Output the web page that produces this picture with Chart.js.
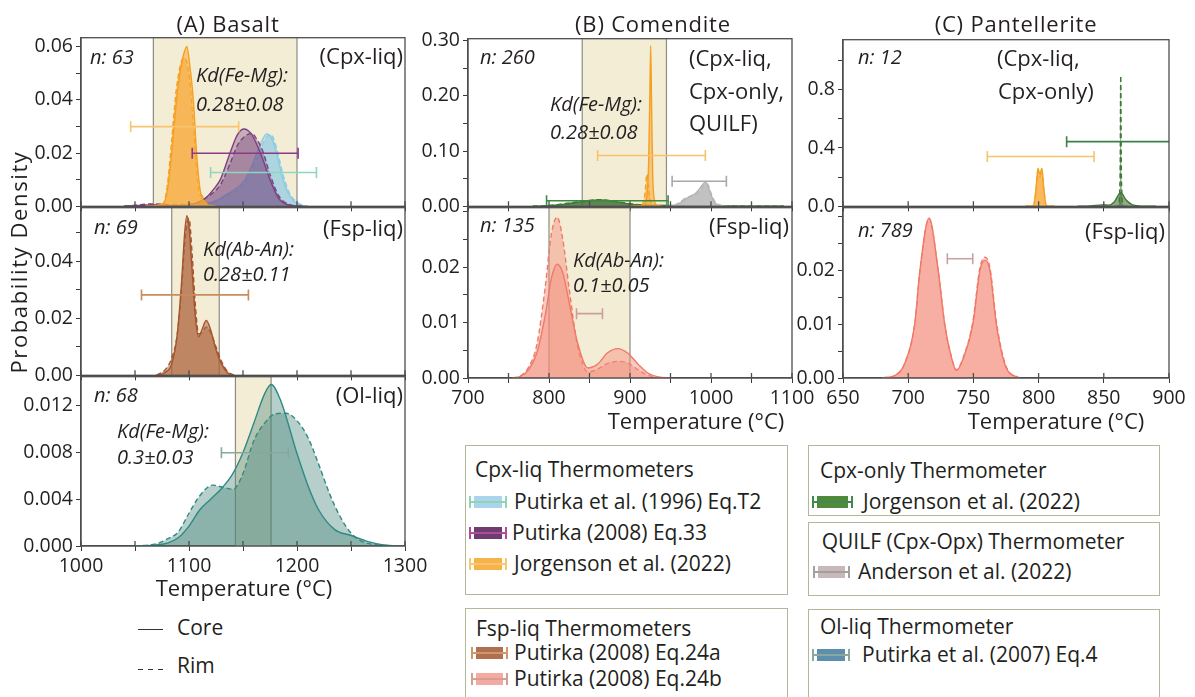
<!DOCTYPE html>
<html lang="en">
<head>
<meta charset="UTF-8" />
<title>Thermometer probability densities</title>
<script src="https://cdn.jsdelivr.net/npm/chart.js@4.4.1/dist/chart.umd.min.js"></script>
<style>
  body { margin: 0; width: 1195px; height: 697px; position: relative; overflow: hidden; background: #fff;
         font-family: "Open Sans", sans-serif; color: #231f20; }
  canvas.panel { position: absolute; }
  .t { position: absolute; white-space: nowrap; line-height: 1; }
  .i { font-style: italic; }
  .box { position: absolute; border: 1.5px solid #b4b898; box-sizing: border-box; }
  .pp { position: absolute; }
</style>
</head>
<body>
<script>
// ---------- (A) Basalt : Cpx-liq ----------
const aCpxShade = [1067, 1200];
const aJorgT    = [1060, 1076, 1080, 1084, 1088, 1092, 1095, 1098, 1101, 1104, 1107, 1110, 1112, 1115, 1125];
const aJorgCore = [0, 0.001, 0.006, 0.020, 0.038, 0.051, 0.057, 0.060, 0.052, 0.040, 0.020, 0.007, 0.003, 0.0008, 0];
const aJorgRim  = [0, 0.001, 0.008, 0.025, 0.043, 0.053, 0.0557, 0.054, 0.046, 0.031, 0.014, 0.0045, 0.004, 0.0015, 0];
const aP08T     = [1040, 1067, 1090, 1105, 1115, 1122, 1129, 1138, 1145, 1151, 1158, 1163, 1168, 1175, 1183, 1192, 1205];
const aP08Core  = [0, 0.0005, 0.0002, 0.001, 0.003, 0.006, 0.010, 0.020, 0.027, 0.029, 0.027, 0.023, 0.018, 0.010, 0.003, 0.0005, 0];
const aP08Rim   = [0, 0.0009, 0.0004, 0.001, 0.003, 0.005, 0.008, 0.016, 0.023, 0.026, 0.0274, 0.025, 0.021, 0.012, 0.004, 0.0008, 0];
const aP96T     = [1040, 1080, 1110, 1125, 1135, 1145, 1152, 1158, 1163, 1168, 1172, 1176, 1181, 1187, 1193, 1200, 1210];
const aP96Core  = [0, 0.0004, 0.0005, 0.002, 0.0045, 0.007, 0.010, 0.015, 0.020, 0.025, 0.0272, 0.026, 0.020, 0.010, 0.004, 0.001, 0];
const aP96Rim   = [0, 0.0006, 0.0008, 0.002, 0.004, 0.006, 0.009, 0.013, 0.018, 0.023, 0.026, 0.0268, 0.022, 0.012, 0.005, 0.0015, 0];
// error bars: [low, high, level]
const aJorgErr = [1046, 1146, 0.0299];
const aP08Err  = [1103, 1201, 0.0199];
const aP96Err  = [1120, 1218, 0.0127];

// ---------- (A) Basalt : Fsp-liq ----------
const aFspShade  = [1084, 1128];
const aEq24aT    = [1070, 1078, 1084, 1089, 1093, 1096, 1098, 1100, 1103, 1106, 1109, 1112, 1116, 1120, 1125, 1130, 1136, 1142];
const aEq24aCore = [0, 0.001, 0.004, 0.014, 0.032, 0.050, 0.056, 0.052, 0.036, 0.020, 0.0135, 0.016, 0.0192, 0.016, 0.009, 0.004, 0.0008, 0];
const aEq24aRim  = [0, 0.002, 0.006, 0.014, 0.030, 0.046, 0.053, 0.055, 0.042, 0.024, 0.0145, 0.015, 0.017, 0.015, 0.010, 0.005, 0.0012, 0];
const aEq24aErr  = [1056, 1155, 0.0282];

// ---------- (A) Basalt : Ol-liq ----------
const aOlShade = [1143, 1176];
const aOlCoreT = [1050, 1070, 1080, 1090, 1100, 1110, 1120, 1130, 1140, 1150, 1160, 1170, 1176, 1185, 1200, 1210, 1220, 1235, 1250, 1265, 1280, 1300];
const aOlCore  = [0, 0.0001, 0.00025, 0.0007, 0.0017, 0.0031, 0.0040, 0.0049, 0.0061, 0.0080, 0.0105, 0.0130, 0.0138, 0.0124, 0.0079, 0.0052, 0.0031, 0.0014, 0.0009, 0.0004, 0.0001, 0];
const aOlRimT  = [1050, 1070, 1080, 1090, 1100, 1110, 1122, 1132, 1141, 1150, 1160, 1170, 1180, 1190, 1200, 1210, 1220, 1230, 1240, 1250, 1260, 1275, 1300];
const aOlRim   = [0, 0.0002, 0.0006, 0.0012, 0.0028, 0.0043, 0.0052, 0.0050, 0.00485, 0.0062, 0.0090, 0.0105, 0.0113, 0.01135, 0.0107, 0.0093, 0.0070, 0.0045, 0.0025, 0.0011, 0.0004, 0.0001, 0];
const aOlErr   = [1130, 1192, 0.00797];

// ---------- (B) Comendite : Cpx-liq, Cpx-only, QUILF ----------
const bCpxShade    = [841, 945];
const bJorgT       = [900, 914, 918, 921, 923, 924.5, 925.5, 926.5, 928, 930, 933, 940];
const bJorgCore    = [0, 0.001, 0.004, 0.02, 0.08, 0.2, 0.291, 0.2, 0.06, 0.012, 0.002, 0];
const bJorgRimT    = [905, 914, 917, 919, 920, 921, 922, 924, 927, 932, 940];
const bJorgRim     = [0, 0.002, 0.01, 0.03, 0.05, 0.058, 0.05, 0.02, 0.004, 0.001, 0];
const bCpxOnlyT    = [780, 797, 820, 840, 863, 880, 900, 920, 950, 1000, 1050, 1090];
const bCpxOnlyCore = [0, 0.0005, 0.004, 0.008, 0.0113, 0.009, 0.004, 0.002, 0.0015, 0.0008, 0.0003, 0];
const bCpxOnlyRim  = [0, 0.001, 0.005, 0.009, 0.012, 0.0095, 0.0045, 0.002, 0.0012, 0.0006, 0.0002, 0];
const bQuilfT      = [945, 955, 962, 970, 975, 980, 985, 990, 993, 996, 1000, 1005, 1012, 1020];
const bQuilfCore   = [0, 0.001, 0.006, 0.014, 0.019, 0.022, 0.030, 0.040, 0.0437, 0.038, 0.020, 0.006, 0.001, 0];
const bQuilfRim    = [0, 0.002, 0.008, 0.016, 0.018, 0.020, 0.026, 0.036, 0.041, 0.040, 0.024, 0.008, 0.002, 0];
const bJorgErr     = [860, 993, 0.092];
const bQuilfErr    = [952, 1019, 0.0454];
const bCpxOnlyErr  = [797, 947, 0.0100];

// ---------- (B) Comendite : Fsp-liq ----------
const bFspShade  = [800, 900];
const bEq24bT    = [755, 765, 775, 785, 795, 803, 810, 817, 825, 835, 848, 860, 872, 885, 897, 910, 922, 935, 950];
const bEq24bCore = [0, 0.0003, 0.0015, 0.0045, 0.011, 0.018, 0.0205, 0.019, 0.0135, 0.0065, 0.0018, 0.0025, 0.0045, 0.0053, 0.0045, 0.0025, 0.0009, 0.0002, 0];
const bEq24bRim  = [0, 0.0004, 0.002, 0.006, 0.016, 0.026, 0.0290, 0.025, 0.016, 0.006, 0.0011, 0.0016, 0.0026, 0.0030, 0.0027, 0.0015, 0.0005, 0.0001, 0];
const bEq24bErr  = [834, 866, 0.0116];

// ---------- (C) Pantellerite : Cpx-liq, Cpx-only ----------
const cJorgT       = [790, 796, 798, 799.5, 801, 802.5, 804, 806, 812];
const cJorgCore    = [0, 0.005, 0.12, 0.262, 0.22, 0.262, 0.12, 0.005, 0];
const cJorgRim     = [0, 0.004, 0.10, 0.24, 0.20, 0.25, 0.11, 0.004, 0];
const cCpxOnlyT    = [830, 840, 849, 854, 858, 863, 867, 872, 880, 890];
const cCpxOnlyCore = [0, 0.003, 0.010, 0.008, 0.030, 0.093, 0.045, 0.010, 0.001, 0];
const cCpxOnlyRimT = [858, 861, 862.5, 863, 863.5, 865, 868];
const cCpxOnlyRim  = [0, 0.002, 0.2, 0.895, 0.2, 0.002, 0];
const cJorgErr     = [760.7, 842.5, 0.341];
const cCpxOnlyErr  = [821.5, 920, 0.443];

// ---------- (C) Pantellerite : Fsp-liq ----------
const cEq24bT    = [680, 690, 697, 705, 709, 716, 723, 728, 733, 737, 742, 749.6, 755, 759, 762.7, 767.6, 775, 785];
const cEq24bCore = [0, 0.0005, 0.0025, 0.010, 0.020, 0.0298, 0.020, 0.010, 0.004, 0.0014, 0.0035, 0.010, 0.020, 0.0219, 0.020, 0.010, 0.002, 0];
const cEq24bRim  = [0, 0.0005, 0.0025, 0.010, 0.020, 0.0296, 0.020, 0.010, 0.004, 0.0015, 0.0037, 0.0105, 0.0205, 0.0225, 0.0205, 0.0105, 0.0022, 0];
const cEq24bErr  = [730, 749.5, 0.0222];

// legend labels
const cpxLiqNames  = ['Putirka et al. (1996) Eq.T2', 'Putirka (2008) Eq.33', 'Jorgenson et al. (2022)'];
const fspLiqNames  = ['Putirka (2008) Eq.24a', 'Putirka (2008) Eq.24b'];
const cpxOnlyNames = ['Jorgenson et al. (2022)'];
const quilfNames   = ['Anderson et al. (2022)'];
const olLiqNames   = ['Putirka et al. (2007) Eq.4'];

// ---------- styles ----------
const C = {
  orange: { line: '#f5a020', fill: 'rgba(248,168,55,0.55)' },
  purple: { line: '#7d3f82', fill: 'rgba(115,65,125,0.36)' },
  blue:   { line: '#8ccbe5', fill: 'rgba(150,205,228,0.5)' },
  brown:  { line: '#a5552e', fill: 'rgba(172,100,60,0.5)' },
  salmon: { line: '#f07a68', fill: 'rgba(245,140,125,0.45)' },
  teal:   { line: '#2f8a84', fill: 'rgba(75,135,125,0.4)' },
  green:  { line: '#3d7a35', fill: 'rgba(70,112,55,0.6)' },
  gray:   { line: '#b5b5b5', fill: 'rgba(185,185,185,0.65)' }
};

Chart.defaults.font.family = '"Open Sans", sans-serif';
Chart.defaults.color = '#231f20';

const pts = (t, d) => t.map((v, i) => ({ x: v, y: d[i] }));

function kde(t, d, col, dashed) {
  return {
    data: pts(t, d), borderColor: col.line, backgroundColor: col.fill, fill: 'origin',
    borderWidth: 1.4, borderDash: dashed ? [5, 3] : [], pointRadius: 0,
    tension: 0.4, cubicInterpolationMode: 'monotone'
  };
}

function errBar(e, color) {
  return {
    data: [{ x: e[0], y: e[2] }, { x: e[1], y: e[2] }],
    borderColor: color, borderWidth: 1.6, fill: false, tension: 0,
    pointStyle: 'line', pointRotation: 90, pointRadius: 5.5,
    pointBorderColor: color, pointBorderWidth: 1.6
  };
}

// beige Kd window behind the curves
const shadePlugin = {
  id: 'shade',
  beforeDatasetsDraw(chart, args, opts) {
    if (!opts.range) return;
    const { ctx, chartArea: a, scales: { x } } = chart;
    const l = x.getPixelForValue(opts.range[0]), r = x.getPixelForValue(opts.range[1]);
    ctx.save();
    ctx.fillStyle = '#f4edd6';
    ctx.fillRect(l, a.top, r - l, a.bottom - a.top);
    ctx.strokeStyle = '#8e8c82';
    ctx.lineWidth = 1.2;
    ctx.beginPath();
    ctx.moveTo(l, a.top); ctx.lineTo(l, a.bottom);
    ctx.moveTo(r, a.top); ctx.lineTo(r, a.bottom);
    ctx.stroke();
    ctx.restore();
  }
};

// box round the plot and inward x ticks
const framePlugin = {
  id: 'frame',
  afterDraw(chart) {
    const { ctx, chartArea: a, scales: { x } } = chart;
    ctx.save();
    ctx.strokeStyle = '#4d4d4d';
    ctx.lineWidth = 1.3;
    ctx.strokeRect(a.left, a.top, a.right - a.left, a.bottom - a.top);
    ctx.beginPath();
    x.ticks.forEach(t => {
      const p = x.getPixelForValue(t.value);
      ctx.moveTo(p, a.bottom); ctx.lineTo(p, a.bottom - 5);
    });
    ctx.stroke();
    ctx.restore();
  }
};

const YW = 62, PT = 14, PR = 32;

// y: [max, minor step, major step, decimals, highest labelled value]
function panel(rect, cfg) {
  const [l, t, r, b] = rect;
  const xh = cfg.bottom ? 40 : 14;
  const cv = document.createElement('canvas');
  cv.className = 'panel';
  cv.width = r - l + YW + PR;
  cv.height = b - t + PT + xh;
  cv.style.left = (l - YW) + 'px';
  cv.style.top = (t - PT) + 'px';
  document.body.appendChild(cv);
  const [ymax, ystep, ymajor, ydec, ytop] = cfg.y;
  const isMajor = v => Math.abs(v / ymajor - Math.round(v / ymajor)) < 1e-6 && v <= ytop + 1e-9;
  return new Chart(cv, {
    type: 'line',
    data: { datasets: cfg.datasets },
    options: {
      responsive: false, animation: false, events: [],
      layout: { padding: { left: 0, top: PT, right: PR, bottom: 0 }, autoPadding: false },
      plugins: { legend: { display: false }, tooltip: { enabled: false }, shade: { range: cfg.shade } },
      scales: {
        x: {
          type: 'linear', min: cfg.x[0], max: cfg.x[1],
          afterFit: s => { s.height = xh; },
          grid: { drawOnChartArea: false, tickLength: 5, color: '#3a3a3a' },
          border: { color: '#4d4d4d', width: 1.3 },
          ticks: {
            stepSize: 50, autoSkip: false, maxRotation: 0, display: !!cfg.bottom, padding: 4,
            font: { size: 19.5 }, callback: v => (v % cfg.x[2] === 0 ? String(v) : '')
          }
        },
        y: {
          type: 'linear', min: 0, max: ymax,
          afterFit: s => { s.width = YW; },
          grid: { drawOnChartArea: false, tickLength: 5, color: '#3a3a3a' },
          border: { color: '#4d4d4d', width: 1.3 },
          ticks: {
            stepSize: ystep, includeBounds: false, padding: 3, font: { size: 19.5 },
            callback: v => (isMajor(v) ? v.toFixed(ydec) : '')
          }
        }
      }
    },
    plugins: [shadePlugin, framePlugin]
  });
}

// (A) Basalt
panel([81, 37, 405, 207], {
  x: [1000, 1300, 100], y: [0.0633, 0.01, 0.02, 2, 0.06], shade: aCpxShade,
  datasets: [
    errBar(aJorgErr, '#f9c46e'), errBar(aP08Err, '#8a3a86'), errBar(aP96Err, '#8fd6bd'),
    kde(aJorgT, aJorgCore, C.orange, false), kde(aJorgT, aJorgRim, C.orange, true),
    kde(aP08T, aP08Core, C.purple, false), kde(aP08T, aP08Rim, C.purple, true),
    kde(aP96T, aP96Core, C.blue, false), kde(aP96T, aP96Rim, C.blue, true)
  ]
});
panel([81, 207, 405, 376], {
  x: [1000, 1300, 100], y: [0.0588, 0.01, 0.02, 2, 0.04], shade: aFspShade,
  datasets: [
    errBar(aEq24aErr, '#c98b5c'),
    kde(aEq24aT, aEq24aCore, C.brown, false), kde(aEq24aT, aEq24aRim, C.brown, true)
  ]
});
panel([81, 376, 405, 546], {
  x: [1000, 1300, 100], y: [0.01447, 0.002, 0.004, 3, 0.012], shade: aOlShade, bottom: true,
  datasets: [
    errBar(aOlErr, '#86a99e'),
    kde(aOlCoreT, aOlCore, C.teal, false), kde(aOlRimT, aOlRim, C.teal, true)
  ]
});

// (B) Comendite
panel([468, 38, 792, 207], {
  x: [700, 1100, 100], y: [0.3036, 0.05, 0.10, 2, 0.30], shade: bCpxShade,
  datasets: [
    errBar(bJorgErr, '#f7c36a'), errBar(bQuilfErr, '#a8a8a8'), errBar(bCpxOnlyErr, '#3f8a42'),
    kde(bJorgT, bJorgCore, C.orange, false), kde(bJorgRimT, bJorgRim, C.orange, true),
    kde(bQuilfT, bQuilfCore, C.gray, false), kde(bQuilfT, bQuilfRim, C.gray, true),
    kde(bCpxOnlyT, bCpxOnlyCore, C.green, false), kde(bCpxOnlyT, bCpxOnlyRim, C.green, true)
  ]
});
panel([468, 207, 792, 378], {
  x: [700, 1100, 100], y: [0.0307, 0.005, 0.01, 2, 0.02], shade: bFspShade, bottom: true,
  datasets: [
    errBar(bEq24bErr, '#c9a19a'),
    kde(bEq24bT, bEq24bCore, C.salmon, false), kde(bEq24bT, bEq24bRim, C.salmon, true)
  ]
});

// (C) Pantellerite
panel([843, 39, 1169, 207], {
  x: [650, 900, 50], y: [1.142, 0.2, 0.4, 1, 0.8],
  datasets: [
    errBar(cJorgErr, '#f7c36a'), errBar(cCpxOnlyErr, '#3d7f44'),
    kde(cJorgT, cJorgCore, C.orange, false), kde(cJorgT, cJorgRim, C.orange, true),
    kde(cCpxOnlyRimT, cCpxOnlyRim, C.green, true), kde(cCpxOnlyT, cCpxOnlyCore, C.green, false)
  ]
});
panel([843, 207, 1169, 378], {
  x: [650, 900, 50], y: [0.0317, 0.005, 0.01, 2, 0.02], bottom: true,
  datasets: [
    errBar(cEq24bErr, '#c9a19a'),
    kde(cEq24bT, cEq24bCore, C.salmon, false), kde(cEq24bT, cEq24bRim, C.salmon, true)
  ]
});

// ---------- text ----------
function txt(s, x, top, size, o = {}) {
  const d = document.createElement('div');
  d.className = 't' + (o.italic ? ' i' : '');
  d.textContent = s;
  d.style.top = top + 'px';
  d.style.fontSize = size + 'px';
  if (o.spacing) d.style.letterSpacing = o.spacing + 'px';
  if (o.align === 'right') d.style.right = (1195 - x) + 'px';
  else if (o.align === 'center') { d.style.left = (x - 200) + 'px'; d.style.width = '400px'; d.style.textAlign = 'center'; }
  else d.style.left = x + 'px';
  if (o.rotate) { d.style.transform = 'rotate(-90deg)'; }
  document.body.appendChild(d);
  return d;
}

txt('(A) Basalt', 228, 12, 22, { align: 'center', spacing: 0.8 });
txt('(B) Comendite', 653, 12, 22, { align: 'center', spacing: 0.8 });
txt('(C) Pantellerite', 1016, 12, 22, { align: 'center', spacing: 0.8 });
txt('Temperature (°C)', 244, 576, 22, { align: 'center' });
txt('Temperature (°C)', 696, 409, 22, { align: 'center' });
txt('Temperature (°C)', 1056, 409, 22, { align: 'center' });
txt('Probability Density', 18, 251, 22, { align: 'center', rotate: true, spacing: 1.6 });

txt('n: 63', 90, 46.5, 20, { italic: true });
txt('(Cpx-liq)', 403, 44, 22, { align: 'right' });
txt('Kd(Fe-Mg):', 196, 64.5, 20, { italic: true });
txt('0.28±0.08', 196, 93.5, 20, { italic: true });
txt('n: 69', 94, 216.5, 20, { italic: true });
txt('(Fsp-liq)', 403, 216, 22, { align: 'right' });
txt('Kd(Ab-An):', 203, 238.5, 20, { italic: true });
txt('0.28±0.11', 203, 263.5, 20, { italic: true });
txt('n: 68', 94, 384.5, 20, { italic: true });
txt('(Ol-liq)', 403, 383, 22, { align: 'right' });
txt('Kd(Fe-Mg):', 117, 420.5, 20, { italic: true });
txt('0.3±0.03', 117, 446.5, 20, { italic: true });

txt('n: 260', 480, 46.5, 20, { italic: true });
txt('(Cpx-liq,', 689, 46, 22);
txt('Cpx-only,', 689, 79, 22);
txt('QUILF)', 689, 111, 22);
txt('Kd(Fe-Mg):', 550, 93.5, 20, { italic: true });
txt('0.28±0.08', 550, 121.5, 20, { italic: true });
txt('n: 135', 480, 214.5, 20, { italic: true });
txt('(Fsp-liq)', 789, 214, 22, { align: 'right' });
txt('Kd(Ab-An):', 573, 249.5, 20, { italic: true });
txt('0.1±0.05', 573, 274.5, 20, { italic: true });

txt('n: 12', 858, 46.5, 20, { italic: true });
txt('(Cpx-liq,', 997, 46, 22);
txt('Cpx-only)', 998, 79, 22);
txt('n: 789', 858, 219.5, 20, { italic: true });
txt('(Fsp-liq)', 1165, 219, 22, { align: 'right' });

// ---------- legend boxes ----------
function box(l, t, w, h) {
  const d = document.createElement('div');
  d.className = 'box';
  Object.assign(d.style, { left: l + 'px', top: t + 'px', width: w + 'px', height: h + 'px' });
  document.body.appendChild(d);
}
function rect(l, t, w, h, bg) {
  const d = document.createElement('div');
  d.className = 'pp';
  Object.assign(d.style, { left: l + 'px', top: t + 'px', width: w + 'px', height: h + 'px', background: bg });
  document.body.appendChild(d);
}
function patch(x0, x1, y, fill, bar) {
  rect(x0 + 5, y - 6, x1 - x0 - 10, 12, fill);
  rect(x0, y - 0.8, x1 - x0, 1.6, bar);
  rect(x0, y - 6, 1.6, 12, bar);
  rect(x1 - 1.6, y - 6, 1.6, 12, bar);
}

box(465, 445, 323, 150);
txt('Cpx-liq Thermometers', 475, 459, 21);
patch(469, 507, 502, '#a9d4ea', '#8fd3b8'); txt(cpxLiqNames[0], 514, 490.8, 21);
patch(469, 507, 533, '#6e3d70', '#b04a9a'); txt(cpxLiqNames[1], 512, 521.8, 21);
patch(469, 507, 564, '#f7b24b', '#f9c86b'); txt(cpxLiqNames[2], 514, 552.8, 21);

box(465, 608, 323, 120);
txt('Fsp-liq Thermometers', 476, 618, 21);
patch(471, 508, 653, '#b07050', '#d0956a'); txt(fspLiqNames[0], 514, 641.8, 21);
patch(471, 508, 679, '#f5a9a0', '#d0a090'); txt(fspLiqNames[1], 514, 667.8, 21);

box(808, 445, 352, 71);
txt('Cpx-only Thermometer', 820, 459.6, 21);
patch(812, 853, 502, '#4f8a3c', '#3f8a4a'); txt(cpxOnlyNames[0], 863, 490.8, 21);

box(808, 522, 352, 74);
txt('QUILF (Cpx-Opx) Thermometer', 821.7, 531.3, 21);
patch(813, 850, 572, '#c8b8b8', '#a0a0a0'); txt(quilfNames[0], 858, 560.8, 21);

box(808, 609, 352, 120);
txt('Ol-liq Thermometer', 820, 616.3, 21);
patch(812, 850, 655, '#5b8fad', '#8aa8a0'); txt(olLiqNames[0], 862, 643.8, 21);

// core / rim key
rect(138, 628.5, 25, 1.6, '#333');
rect(138, 668.5, 25, 1.6, 'repeating-linear-gradient(90deg, #333 0 5px, transparent 5px 10px)');
txt('Core', 177, 617, 21);
txt('Rim', 177, 655, 21);
</script>
</body>
</html>
